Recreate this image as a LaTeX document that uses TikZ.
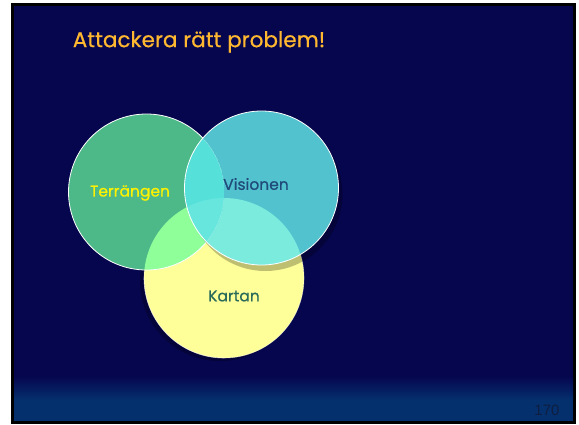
\documentclass[tikz,border=0pt]{standalone}
\usepackage{fontspec}
\setmainfont{Poppins}[FakeBold=0.6, BoldFont=Poppins]
\newfontfamily\numfont{Liberation Sans}
\usetikzlibrary{backgrounds,calc}
\definecolor{navy}{HTML}{06064E}
\definecolor{footblue}{HTML}{05306E}
\definecolor{titlecol}{HTML}{FFB830}
\definecolor{tcol}{HTML}{4DB988}
\definecolor{vcol}{HTML}{52C2CE}
\definecolor{kcol}{HTML}{FFFF99}
\definecolor{tkcol}{HTML}{8FFF9A}
\definecolor{vkcol}{HTML}{7AEBDD}
\definecolor{tvcol}{HTML}{55E0D9}
\definecolor{tvkcol}{HTML}{66E6DC}
\definecolor{vlabel}{HTML}{1F4A7A}
\definecolor{klabel}{HTML}{2A6A5A}
\definecolor{numcol}{HTML}{0E1E40}
\tikzset{
  lbl/.style={inner sep=0pt, font=\bfseries\fontsize{15.5}{17}\selectfont},
  outline/.style={draw=white, line width=0.8pt}
}
\begin{document}
\begin{tikzpicture}[x=1pt,y=-1pt]
\useasboundingbox (0,0) rectangle (579,424);
\fill[white] (0,0) rectangle (579,424);
\fill[black] (11,3) rectangle (576,424);
\fill[navy] (14,6) rectangle (573,421);
\shade[top color=navy, bottom color=footblue] (14,376) rectangle (573,400);
\fill[footblue] (14,400) rectangle (573,421);
% coordinates
\coordinate (tc) at (146.5,192);
\coordinate (vc) at (261.5,188);
\coordinate (kc) at (224,278);
% Kartan shadow
\fill[black, opacity=0.25] ($(kc)+(-4,3)$) circle[radius=80];
\fill[kcol] (kc) circle[radius=80];
\draw[white, opacity=0.5, line width=0.6pt] (kc) circle[radius=80];
% Terrangen
\fill[tcol] (tc) circle[radius=78];
\begin{scope}
  \clip (tc) circle[radius=78];
  \fill[tkcol] (kc) circle[radius=80];
\end{scope}
\draw[white, opacity=0.35, line width=0.6pt] (kc) ++(-80,0) arc[start angle=180, end angle=90, radius=80];
\draw[outline] (tc) circle[radius=78];
% Visionen shadow
\fill[black, opacity=0.25] ($(vc)+(4,6)$) circle[radius=77];
\fill[vcol] (vc) circle[radius=77];
\begin{scope}
  \clip (vc) circle[radius=77];
  \fill[vkcol] (kc) circle[radius=80];
  \clip (tc) circle[radius=78];
  \fill[tvcol] (tc) circle[radius=78];
  \fill[tvkcol] (kc) circle[radius=80];
  \draw[white, opacity=0.4, line width=0.6pt] (tc) circle[radius=78];
\end{scope}
\draw[outline] (vc) circle[radius=77];
% labels
\node[inner sep=0pt, text=titlecol, font=\bfseries\fontsize{21.5}{24}\selectfont] (title) at (199,42) {Attackera rätt problem!};
\node[lbl, text=yellow] (t) at (130,193) {Terrängen};
\node[lbl, text=vlabel] (v) at (256,184) {Visionen};
\node[lbl, text=klabel] (k) at (234,296) {Kartan};
\node[inner sep=0pt, text=numcol, font=\numfont\fontsize{15}{17}\selectfont] (num) at (547,410) {170};
\end{tikzpicture}
\end{document}
